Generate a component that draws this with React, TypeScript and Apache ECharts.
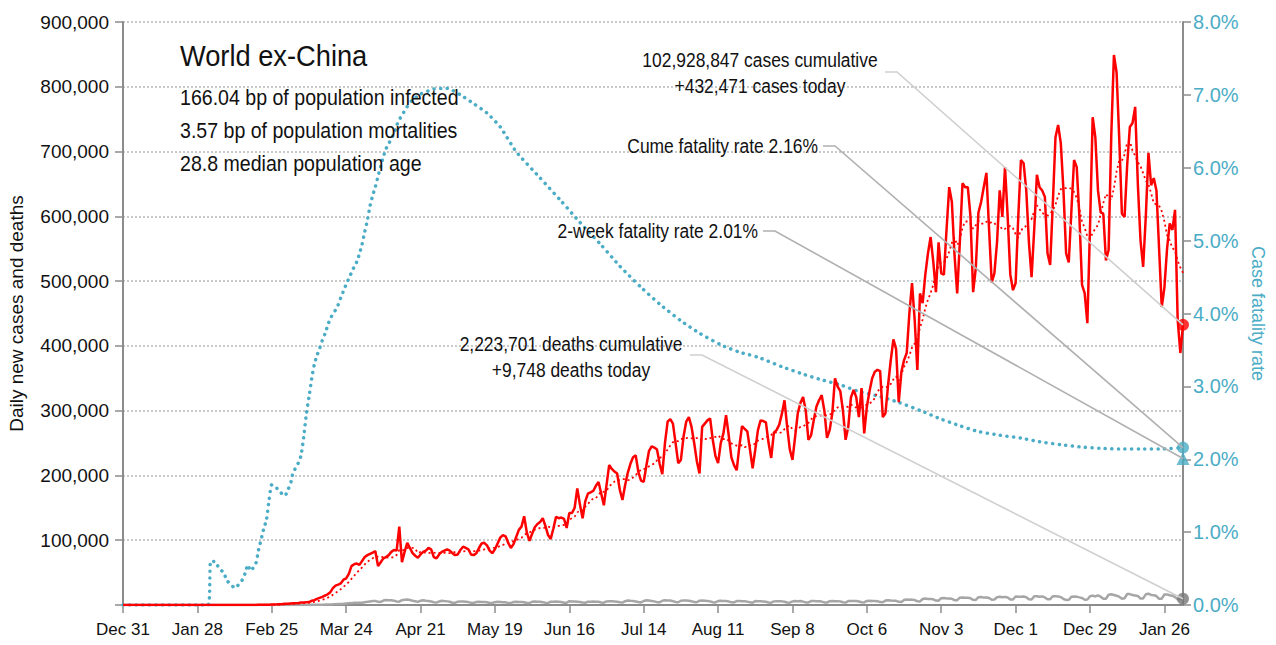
import React, { useEffect, useRef } from "react";
import * as echarts from "echarts";

const FONT = "'Liberation Sans', Arial, sans-serif";

// x-axis tick labels, one every 28 days starting Dec 31, 2019 (day 0)
const xTickLabels = ["Dec 31", "Jan 28", "Feb 25", "Mar 24", "Apr 21", "May 19", "Jun 16", "Jul 14", "Aug 11", "Sep 8", "Oct 6", "Nov 3", "Dec 1", "Dec 29", "Jan 26"];
const tickEvery = 28;

// Daily new cases, World ex-China, day 0 = Dec 31, 2019
const dailyCases = [
  0, 0, 0, 0, 0, 0, 0, 0, 0, 0, 0, 0, 0, 0, 0, 0, 0, 0, 0, 0, 0,
  5, 3, 8, 10, 12, 15, 20, 18, 25, 20,
  30, 25, 20, 28, 30, 35, 25, 22, 30, 25,
  40, 35, 45, 60, 55, 50, 70, 80, 90, 150,
  200, 250, 350, 450, 500,
  700, 850, 1000, 1300, 1500, 1800, 2000, 2300, 2600, 2800, 3200, 3700, 4000, 4300,
  4500, 6500, 7500, 9500, 11000, 12500, 14500, 16500, 19500, 26000, 30000, 31500, 33500, 39000, 41000,
  48000, 60000, 63000, 64000, 62000, 68000, 74000, 77000, 79000, 81000, 83000, 60000, 66000, 72000, 74000,
  77000, 82000, 85000, 84000, 121000, 66000, 82000, 96000, 88000, 80000,
  76000, 73000, 78000, 82000, 84000, 88000, 86000, 74000, 72000, 78000,
  82000, 84000, 86000, 84000, 80000, 77000, 78000, 85000, 90000, 88000,
  86000, 78000, 77000, 80000, 88000, 95000, 96000, 92000, 84000, 80000,
  86000, 95000, 104000, 108000, 106000, 96000, 88000, 94000, 105000, 116000,
  121000, 137000, 112000, 99000, 110000, 120000, 125000, 128000, 134000, 122000,
  108000,
  102000, 118000, 136000, 134000, 135000, 133000, 119000, 142000, 142000, 150000,
  180000, 155000, 134000, 160000, 172000, 174000, 176000, 184000, 190000, 172000,
  154000, 185000, 216000, 210000, 206000, 203000, 178000, 162000, 185000, 204000,
  218000, 228000, 231000, 205000, 192000, 190000, 215000, 238000, 245000, 243000,
  240000, 218000, 202000, 250000, 283000, 287000, 280000, 250000, 219000, 224000,
  260000, 283000, 290000, 275000, 250000, 222000, 203000, 275000, 280000, 285000,
  288000, 255000, 230000, 219000, 250000, 265000, 293000, 262000, 228000, 216000,
  208000, 245000, 276000, 272000, 268000, 240000, 211000, 240000, 270000, 285000,
  284000, 282000, 250000, 227000, 266000, 270000, 278000, 295000, 316000, 275000,
  240000, 224000, 260000, 296000, 312000, 321000, 300000, 255000, 262000, 285000,
  306000, 316000, 324000, 300000, 258000, 270000, 296000, 350000, 337000, 330000,
  300000, 255000, 275000, 320000, 332000, 321000, 290000, 335000, 265000, 306000,
  330000, 350000, 360000, 363000, 361000, 290000, 296000, 340000, 378000, 410000,
  395000, 313000, 360000, 378000, 389000, 450000, 497000, 440000, 363000, 481000,
  466000, 510000, 543000, 568000, 530000, 483000, 560000, 512000, 510000, 580000,
  645000, 622000, 540000, 481000, 560000, 651000, 645000, 645000, 600000, 483000,
  520000, 606000, 622000, 645000, 667000, 580000, 498000, 512000, 560000, 640000,
  599000, 676000, 600000, 510000, 486000, 497000, 600000, 687000, 682000, 640000,
  560000, 506000, 580000, 664000, 645000, 640000, 630000, 543000, 525000, 620000,
  722000, 741000, 713000, 640000, 543000, 529000, 610000, 687000, 676000, 600000,
  494000, 481000, 435000, 583000, 753000, 722000, 640000, 606000, 604000, 532000,
  548000, 725000, 849000, 822000, 720000, 604000, 599000, 680000, 738000, 744000,
  769000, 650000, 563000, 522000, 600000, 698000, 648000, 659000, 640000, 550000,
  460000, 490000, 550000, 589000, 579000, 610000, 440000, 389000, 432471,
];

// Daily new deaths, same days
const dailyDeaths = [
  0, 0, 0, 0, 0, 0, 0, 0, 0, 0, 0, 0, 0, 0, 0, 0, 0, 0, 0, 0, 0, 0, 0, 0, 0, 0, 0, 0, 0, 0, 0, 0, 0, 0, 0,
  1, 2, 2, 3, 3, 4, 5, 5, 6, 6, 8, 10, 12, 15, 18, 20, 25, 30, 35, 40, 45,
  20, 25, 30, 35, 40, 45, 55,
  60, 70, 80, 100, 120, 150, 170,
  200, 250, 300, 350, 420, 480, 600,
  750, 900, 1100, 1350, 1600, 1700, 1900,
  2300, 2600, 2900, 3300, 3500, 3400, 3600,
  4400, 4900, 5500, 6000, 6300, 4900, 4700,
  6800, 7600, 7300, 7300, 6700, 5500, 5200,
  7500, 8100, 8400, 7600, 6600, 5800, 4800,
  6600, 7200, 6500, 6100, 5400, 4200, 3800,
  5500, 6600, 6000, 5600, 5000, 3500, 3400,
  5200, 5400, 5300, 5000, 4500, 3300, 3100,
  4700, 5100, 4800, 4700, 4300, 3000, 3000,
  4400, 4900, 4700, 4400, 4100, 3100, 2900,
  4700, 4900, 4800, 4700, 4200, 3100, 2900,
  5000, 5400, 5200, 4900, 4400, 3500, 3200,
  5000, 5100, 5300, 5100, 4600, 3600, 3400,
  5900, 5300, 5300, 5100, 4700, 3800, 3400,
  5200, 5100, 5300, 5200, 4900, 3900, 3600,
  5500, 5600, 5600, 5400, 5000, 4100, 3700,
  5900, 7000, 6500, 6200, 5500, 4500, 4000,
  6200, 7200, 6800, 6200, 5600, 4400, 4100,
  6500, 7200, 7000, 6800, 5900, 4600, 4200,
  6600, 6800, 7000, 6700, 5900, 4500, 4300,
  6700, 6900, 6600, 6300, 5600, 4300, 4000,
  6200, 6500, 6100, 6000, 5500, 4100, 3900,
  6100, 6200, 5900, 5700, 5200, 4100, 3600,
  6000, 5800, 5700, 5500, 5100, 3800, 3500,
  5600, 5900, 5800, 5600, 5100, 3900, 3600,
  5500, 6000, 5900, 6100, 5200, 4000, 3900,
  6000, 6300, 5800, 5900, 5300, 4000, 3700,
  5900, 6200, 5800, 5900, 5600, 4200, 3800,
  6000, 6200, 6000, 6100, 5500, 4300, 4000,
  6300, 6500, 6300, 6200, 5900, 4500, 4200,
  6800, 7300, 6900, 6600, 6400, 4900, 4600,
  7600, 8500, 8200, 8300, 7600, 5800, 5500,
  9300, 10100, 9400, 9200, 8800, 6900, 6600,
  10600, 10900, 10200, 10000, 9500, 7400, 7400,
  11300, 11700, 11200, 11100, 10500, 8000, 7900,
  12100, 12300, 11400, 11700, 10900, 8100, 8500,
  12000, 12700, 12000, 12500, 11600, 8600, 8500,
  13100, 12800, 12700, 13000, 11900, 8800, 8600,
  13500, 13500, 12600, 13200, 11700, 8900, 9000,
  13500, 13700, 13200, 12200, 9300, 7800, 8000,
  12700, 13000, 12900, 11800, 10800, 8200, 8500,
  13500, 14500, 13200, 15000, 12800, 9700, 9600,
  15800, 16500, 15400, 14300, 12900, 9800, 10400,
  17000, 16800, 15300, 14800, 14000, 10000, 10200,
  16500, 17500, 15600, 15000, 13800, 9500, 9800,
  16200, 16400, 15000, 14400, 12200, 8600, 9200,
  9748,
];

// Cumulative case fatality rate (%), read at these days
const cfrDays = [
  0, 32, 33, 35, 36, 38, 39, 41, 42, 44, 45, 46, 47, 48, 50, 51, 52, 53, 54,
  55, 56, 57, 58, 59, 60, 61, 62, 63, 64, 65, 66, 67, 68, 69, 70, 71, 72, 73, 74, 75,
  76, 77, 78, 79, 80, 81, 82, 83, 84, 85, 86, 87, 88, 89, 90, 91, 92, 93, 94, 95,
  96, 97, 98, 99, 100, 101, 102, 103, 104, 105, 107, 109, 112, 117, 122, 127, 132, 137, 142, 148,
  157, 165, 172, 180, 187, 195, 202, 210, 217, 225, 232, 239, 248, 255, 262, 270, 277, 285, 292, 300,
  308, 315, 322, 330, 338, 345, 353, 360, 368, 375, 383, 390, 399,
];
const cfrPct = [
  0, 0, 0.6, 0.59, 0.51, 0.44, 0.34, 0.27, 0.23, 0.3, 0.35, 0.44, 0.55, 0.47, 0.57, 0.75, 0.9, 1.05, 1.17,
  1.45, 1.65, 1.63, 1.6, 1.56, 1.52, 1.5, 1.58, 1.65, 1.82, 1.88, 1.95, 2.05, 2.3, 2.62, 2.85, 3.1, 3.3, 3.42, 3.52, 3.63,
  3.72, 3.83, 3.93, 3.99, 4.05, 4.12, 4.22, 4.31, 4.4, 4.48, 4.56, 4.64, 4.71, 4.82, 4.95, 5.12, 5.28, 5.48, 5.62, 5.74,
  5.88, 6.02, 6.15, 6.26, 6.33, 6.4, 6.47, 6.58, 6.66, 6.72, 6.84, 6.93, 7.01, 7.08, 7.09, 7.0, 6.88, 6.75, 6.56, 6.22,
  5.86, 5.54, 5.25, 4.94, 4.65, 4.36, 4.13, 3.9, 3.73, 3.57, 3.47, 3.4, 3.27, 3.18, 3.1, 3.02, 2.93, 2.86, 2.78, 2.67,
  2.55, 2.46, 2.38, 2.33, 2.29, 2.24, 2.2, 2.17, 2.15, 2.14, 2.14, 2.14, 2.16,
];

const twoWeekCfr = 2.01;

const titleText = "World ex-China";
const infoLines = ["166.04 bp of population infected", "3.57 bp of population mortalities", "28.8 median population age"];
const casesNote = ["102,928,847 cases cumulative", "+432,471 cases today"];
const deathsNote = ["2,223,701 deaths cumulative", "+9,748 deaths today"];
const cumeNote = "Cume fatality rate 2.16%";
const twoWeekNote = "2-week fatality rate 2.01%";

const RED = "#ff0000";
const TEAL = "#4bacc6";
const GRAY = "#a6a6a6";
const AXIS = "#8c8c8c";

export default function App() {
  const ref = useRef<HTMLDivElement>(null);

  useEffect(() => {
    if (!ref.current) return;
    const chart = echarts.init(ref.current, undefined, { renderer: "svg" });
    const lastDay = dailyCases.length - 1;

    const casesData = dailyCases.map((v, i) => [i, v]);
    const maData = dailyCases.map((_, i) => {
      const from = Math.max(0, i - 6);
      const win = dailyCases.slice(from, i + 1);
      return [i, win.reduce((a, b) => a + b, 0) / win.length];
    });
    const deathsData = dailyDeaths.map((v, i) => [i, v]);
    const cfrData = cfrDays.map((d, i) => [d, cfrPct[i]]);
    const lastCfr = cfrPct[cfrPct.length - 1];
    const lastCases = dailyCases[lastDay];
    const lastDeaths = dailyDeaths[lastDay];

    chart.setOption({
      animation: false,
      textStyle: { fontFamily: FONT },
      grid: { left: 123, right: 93, top: 22, bottom: 40, containLabel: false, outerBoundsMode: "none" },
      xAxis: {
        type: "value",
        min: 0,
        max: lastDay,
        interval: tickEvery,
        axisLine: { show: true, onZero: false, lineStyle: { color: AXIS, width: 2 } },
        axisTick: { show: true, length: 8, lineStyle: { color: AXIS, width: 1.5 } },
        axisLabel: {
          showMaxLabel: false,
          margin: 16,
          color: "#111",
          fontSize: 17,
          fontFamily: FONT,
          formatter: (v: number) => (v % tickEvery === 0 ? xTickLabels[v / tickEvery] ?? "" : ""),
        },
        splitLine: { show: false },
      },
      yAxis: [
        {
          type: "value",
          min: 0,
          max: 900000,
          interval: 100000,
          name: "Daily new cases and deaths",
          nameLocation: "middle",
          nameGap: 97,
          nameTextStyle: { color: "#111", fontSize: 19, fontFamily: FONT },
          axisLine: { show: true, lineStyle: { color: AXIS, width: 2 } },
          axisTick: { show: true, length: 8, lineStyle: { color: AXIS, width: 1.5 } },
          axisLabel: {
            margin: 14,
            color: "#111",
            fontSize: 19,
            fontFamily: FONT,
            formatter: (v: number) => (v === 0 ? "" : v.toLocaleString("en-US")),
          },
          splitLine: { show: true, lineStyle: { color: "#b8b8b8", type: [2, 2], width: 1.5 } },
        },
        {
          type: "value",
          min: 0,
          max: 8,
          interval: 1,
          position: "right",
          name: "Case fatality rate",
          nameLocation: "middle",
          nameGap: 66,
          nameRotate: -90,
          nameTextStyle: { color: TEAL, fontSize: 18, fontFamily: FONT },
          axisLine: { show: true, lineStyle: { color: AXIS, width: 2 } },
          axisTick: { show: true, length: 8, lineStyle: { color: AXIS, width: 1.5 } },
          axisLabel: {
            margin: 10,
            color: TEAL,
            fontSize: 20,
            fontFamily: FONT,
            formatter: (v: number) => v.toFixed(1) + "%",
          },
          splitLine: { show: false },
        },
      ],
      series: [
        {
          name: "Deaths",
          type: "line",
          data: deathsData,
          showSymbol: false,
          lineStyle: { color: GRAY, width: 2.5 },
          z: 2,
        },
        {
          name: "CFR",
          type: "line",
          yAxisIndex: 1,
          data: cfrData,
          showSymbol: false,
          smooth: 0.2,
          lineStyle: { color: TEAL, width: 3.5, type: [0.1, 6.5], cap: "round" },
          z: 3,
        },
        {
          name: "Cases",
          type: "line",
          data: casesData,
          showSymbol: false,
          lineStyle: { color: RED, width: 2.5 },
          z: 4,
        },
        {
          name: "Cases 7d",
          type: "line",
          data: maData,
          showSymbol: false,
          lineStyle: { color: RED, width: 1.8, type: [2, 3] },
          z: 5,
        },
        {
          type: "scatter",
          data: [[lastDay, lastCases]],
          symbol: "circle",
          symbolSize: 12,
          itemStyle: { color: RED },
          z: 6,
        },
        {
          type: "scatter",
          data: [[lastDay, lastDeaths]],
          symbol: "circle",
          symbolSize: 12,
          itemStyle: { color: "#777" },
          z: 6,
        },
        {
          type: "scatter",
          yAxisIndex: 1,
          data: [[lastDay, lastCfr]],
          symbol: "circle",
          symbolSize: 12,
          itemStyle: { color: TEAL },
          z: 6,
        },
        {
          type: "scatter",
          yAxisIndex: 1,
          data: [[lastDay, twoWeekCfr]],
          symbol: "triangle",
          symbolSize: 13,
          itemStyle: { color: TEAL },
          z: 6,
        },
      ],
    });

    const pCases = chart.convertToPixel({ xAxisIndex: 0, yAxisIndex: 0 }, [lastDay, lastCases]) as number[];
    const pDeaths = chart.convertToPixel({ xAxisIndex: 0, yAxisIndex: 0 }, [lastDay, lastDeaths]) as number[];
    const pCfr = chart.convertToPixel({ xAxisIndex: 0, yAxisIndex: 1 }, [lastDay, lastCfr]) as number[];
    const p2w = chart.convertToPixel({ xAxisIndex: 0, yAxisIndex: 1 }, [lastDay, twoWeekCfr]) as number[];

    const txt = (text: string, x: number, y: number, size: number, align: string, sx: number, color = "#111") => ({
      type: "text",
      x,
      y,
      scaleX: sx,
      z: 20,
      style: { text, x: 0, y: 0, fill: color, font: `${size}px ${FONT}`, textAlign: align, textVerticalAlign: "middle" },
    });
    const leader = (x: number, y: number, end: number[], color: string) => ({
      type: "polyline",
      z: 15,
      shape: { points: [[x, y], [x + 12, y], [end[0], end[1]]] },
      style: { stroke: color, lineWidth: 1.6, fill: "none" },
    });

    chart.setOption({
      graphic: [
        txt(titleText, 180, 56, 29, "left", 0.94),
        txt(infoLines[0], 180, 97, 22, "left", 0.89),
        txt(infoLines[1], 180, 130, 22, "left", 0.89),
        txt(infoLines[2], 180, 163, 22, "left", 0.89),
        txt(casesNote[0], 760, 60, 21, "center", 0.83),
        txt(casesNote[1], 760, 86, 21, "center", 0.83),
        leader(885, 72, pCases, "#cfcfcf"),
        txt(cumeNote, 818, 146, 21, "right", 0.83),
        leader(823, 146, pCfr, "#b0b0b0"),
        txt(twoWeekNote, 758, 231, 21, "right", 0.83),
        leader(763, 231, p2w, "#b0b0b0"),
        txt(deathsNote[0], 571, 344, 21, "center", 0.83),
        txt(deathsNote[1], 571, 370, 21, "center", 0.83),
        leader(690, 355, pDeaths, "#cfcfcf"),
      ],
    });

    return () => chart.dispose();
  }, []);

  return <div ref={ref} style={{ position: "absolute", left: 0, top: 0, width: 1276, height: 645 }} />;
}
